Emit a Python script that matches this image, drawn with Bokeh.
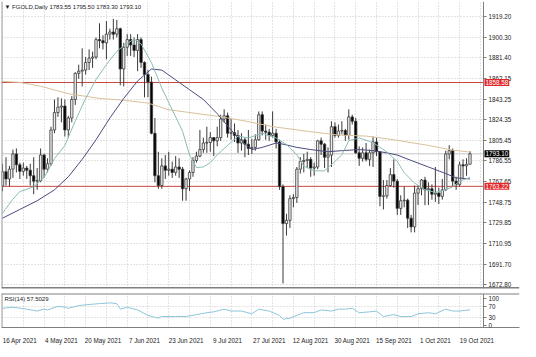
import pandas as pd
from bokeh.plotting import figure
from bokeh.layouts import column
from bokeh.models import (ColumnDataSource, FixedTicker, Label, Span, Range1d,
                          PrintfTickFormatter, BoxAnnotation)
from bokeh.embed import file_html
from bokeh.resources import INLINE

# ---------------- data ----------------
dates = pd.bdate_range("2021-04-16", "2021-10-22")   # daily bars (Mon-Fri)
day = {d.strftime("%m-%d"): i for i, d in enumerate(dates)}

opens = [1763.6, 1776.7, 1770.0, 1779.0, 1793.0, 1783.0, 1777.0, 1780.0, 1778.0, 1773.0,
         1768.0, 1768.5, 1792.0, 1779.0, 1784.0, 1815.0, 1831.0, 1836.0, 1837.0, 1815.0,
         1826.0, 1843.0, 1867.0, 1869.0, 1870.0, 1877.0, 1881.0, 1882.0, 1898.0, 1897.0,
         1895.0, 1903.0, 1905.0, 1903.0, 1908.0, 1871.0, 1891.0, 1898.0, 1893.0, 1888.0,
         1898.0, 1877.0, 1866.0, 1859.0, 1812.0, 1773.0, 1764.0, 1782.0, 1778.0, 1779.0,
         1776.0, 1781.0, 1779.0, 1761.0, 1770.0, 1776.0, 1787.0, 1791.0, 1797.0, 1803.0,
         1803.5, 1808.0, 1805.0, 1808.0, 1825.0, 1828.0, 1812.0, 1812.5, 1810.0, 1803.0,
         1806.0, 1802.0, 1798.0, 1799.0, 1806.0, 1829.0, 1814.0, 1813.0, 1810.0, 1812.0,
         1804.0, 1763.0, 1729.0, 1732.0, 1752.0, 1753.0, 1779.0, 1786.0, 1787.0, 1788.0,
         1780.0, 1781.0, 1805.0, 1802.0, 1790.0, 1792.0, 1818.0, 1810.0, 1814.0, 1814.5,
         1810.0, 1827.0, 1823.0, 1794.0, 1789.0, 1794.0, 1788.0, 1794.0, 1804.0, 1795.0,
         1754.0, 1754.5, 1764.0, 1774.0, 1768.0, 1743.0, 1750.0, 1750.5, 1734.0, 1726.0,
         1757.0, 1761.0, 1769.0, 1760.0, 1761.0, 1756.0, 1757.0, 1754.0, 1760.0, 1793.0,
         1796.0, 1768.0, 1765.0, 1783.0, 1782.0, 1783.55]
highs = [1784.0, 1790.0, 1782.0, 1797.0, 1798.0, 1785.0, 1785.0, 1782.0, 1784.0, 1790.0,
         1780.0, 1798.0, 1793.0, 1789.0, 1818.0, 1843.0, 1845.0, 1844.0, 1843.0, 1828.0,
         1846.0, 1868.0, 1875.0, 1890.0, 1882.0, 1889.0, 1887.0, 1900.0, 1913.0, 1902.0,
         1915.0, 1908.0, 1917.0, 1916.0, 1909.0, 1895.0, 1903.0, 1903.0, 1900.0, 1903.0,
         1900.0, 1878.0, 1870.0, 1864.0, 1826.0, 1795.0, 1789.0, 1792.0, 1795.0, 1786.0,
         1791.0, 1789.0, 1781.0, 1771.0, 1778.0, 1790.0, 1795.0, 1815.0, 1808.0, 1818.0,
         1813.0, 1808.5, 1818.0, 1829.0, 1834.0, 1831.0, 1825.0, 1821.0, 1815.0, 1812.0,
         1808.0, 1815.0, 1807.0, 1811.0, 1832.0, 1832.0, 1820.0, 1816.0, 1832.0, 1816.0,
         1806.0, 1765.0, 1738.0, 1755.0, 1756.0, 1781.0, 1790.0, 1793.0, 1795.0, 1790.0,
         1785.0, 1806.0, 1808.0, 1803.0, 1799.0, 1823.0, 1822.0, 1820.0, 1823.0, 1816.0,
         1834.0, 1829.0, 1826.0, 1800.0, 1799.0, 1803.0, 1797.0, 1809.0, 1808.0, 1795.5,
         1769.0, 1769.0, 1780.0, 1788.0, 1770.0, 1755.0, 1763.0, 1752.0, 1737.0, 1764.0,
         1764.0, 1770.0, 1772.0, 1767.0, 1765.0, 1781.0, 1762.0, 1770.0, 1796.0, 1801.0,
         1798.0, 1772.0, 1786.0, 1788.0, 1789.0, 1795.5]
lows = [1758.8, 1764.0, 1763.0, 1771.0, 1776.0, 1770.0, 1773.0, 1770.0, 1764.0, 1756.0,
        1760.0, 1767.0, 1771.0, 1776.0, 1782.0, 1812.0, 1827.0, 1822.0, 1809.0, 1808.0,
        1822.0, 1838.0, 1862.0, 1855.0, 1866.0, 1870.0, 1872.0, 1880.0, 1890.0, 1889.0,
        1880.0, 1898.0, 1898.0, 1900.0, 1856.0, 1855.0, 1883.0, 1883.0, 1882.0, 1869.0,
        1872.0, 1845.0, 1845.0, 1811.0, 1767.0, 1761.0, 1761.0, 1770.0, 1773.0, 1771.0,
        1773.0, 1771.0, 1750.0, 1750.0, 1759.0, 1772.0, 1785.0, 1790.0, 1794.0, 1794.0,
        1795.0, 1791.0, 1800.0, 1805.0, 1822.0, 1808.0, 1806.0, 1804.0, 1794.0, 1796.0,
        1790.0, 1792.0, 1793.0, 1796.0, 1805.0, 1810.0, 1806.0, 1805.0, 1808.0, 1798.0,
        1760.0, 1674.0, 1718.0, 1725.0, 1744.0, 1748.0, 1775.0, 1776.0, 1780.0, 1772.0,
        1773.0, 1779.0, 1792.0, 1780.0, 1776.0, 1781.0, 1808.0, 1808.0, 1811.0, 1805.0,
        1806.0, 1820.0, 1793.0, 1782.0, 1786.0, 1786.0, 1782.0, 1781.0, 1791.0, 1745.0,
        1742.0, 1752.0, 1763.0, 1762.0, 1737.0, 1737.0, 1744.0, 1725.0, 1721.0, 1721.0,
        1746.0, 1755.0, 1746.0, 1746.0, 1751.0, 1749.0, 1747.0, 1751.0, 1759.0, 1788.0,
        1763.0, 1760.0, 1763.0, 1770.0, 1773.0, 1783.3]
closes = [1776.7, 1770.0, 1779.0, 1793.0, 1783.0, 1777.0, 1780.0, 1778.0, 1773.0, 1768.0,
          1768.5, 1792.0, 1779.0, 1784.0, 1815.0, 1831.0, 1836.0, 1837.0, 1815.0, 1826.0,
          1843.0, 1867.0, 1869.0, 1870.0, 1877.0, 1881.0, 1882.0, 1898.0, 1897.0, 1895.0,
          1903.0, 1905.0, 1903.0, 1908.0, 1871.0, 1891.0, 1898.0, 1893.0, 1888.0, 1898.0,
          1877.0, 1866.0, 1859.0, 1812.0, 1773.0, 1764.0, 1782.0, 1778.0, 1779.0, 1776.0,
          1781.0, 1779.0, 1761.0, 1770.0, 1776.0, 1787.0, 1791.0, 1797.0, 1803.0, 1803.5,
          1808.0, 1805.0, 1808.0, 1825.0, 1828.0, 1812.0, 1812.5, 1810.0, 1803.0, 1806.0,
          1802.0, 1798.0, 1799.0, 1806.0, 1829.0, 1814.0, 1813.0, 1810.0, 1812.0, 1804.0,
          1763.0, 1729.0, 1732.0, 1752.0, 1753.0, 1779.0, 1786.0, 1787.0, 1788.0, 1780.0,
          1781.0, 1805.0, 1802.0, 1790.0, 1792.0, 1818.0, 1810.0, 1814.0, 1814.5, 1810.0,
          1827.0, 1823.0, 1794.0, 1789.0, 1794.0, 1788.0, 1794.0, 1804.0, 1795.0, 1754.0,
          1754.5, 1764.0, 1774.0, 1768.0, 1743.0, 1750.0, 1750.5, 1734.0, 1726.0, 1757.0,
          1761.0, 1769.0, 1760.0, 1761.0, 1756.0, 1757.0, 1754.0, 1760.0, 1793.0, 1796.0,
          1768.0, 1765.0, 1783.0, 1782.0, 1783.5, 1793.1]

# moving averages (date -> value)
ma_slow_dates = ["04-16", "04-23", "05-03", "05-13", "05-26", "06-04", "06-15", "06-23", "07-13",
                 "07-23", "08-04", "08-18", "08-31", "09-10", "09-22", "10-06", "10-15", "10-22"]
ma_slow_vals = [1859.6, 1858.7, 1855.2, 1848.3, 1844.0, 1842.3, 1839.7, 1833.6, 1827.6,
                1823.3, 1818.1, 1813.8, 1810.3, 1809.4, 1806.0, 1800.8, 1796.5, 1794.7]

ma_mid_dates = ["04-16", "04-23", "04-30", "05-07", "05-13", "05-19", "05-25", "05-31", "06-04",
                "06-10", "06-16", "06-21", "06-25", "07-01", "07-07", "07-13", "07-19", "07-22",
                "07-27", "07-30", "08-05", "08-09", "08-13", "08-19", "08-26", "09-01", "09-08",
                "09-14", "09-20", "09-23", "09-29", "10-06", "10-13", "10-18", "10-22"]
ma_mid_vals = [1734, 1742, 1750, 1760, 1772, 1788, 1806, 1826, 1844,
               1860, 1871, 1870, 1861, 1852, 1843, 1830, 1815, 1805,
               1797, 1799, 1803, 1802, 1799, 1797, 1795, 1796, 1797,
               1796, 1794, 1792, 1787, 1781, 1775, 1771, 1770]

ma_fast_dates = ["04-16", "04-21", "04-23", "04-29", "05-04", "05-07", "05-12", "05-17", "05-20",
                 "05-25", "05-28", "06-02", "06-04", "06-09", "06-11", "06-16", "06-21", "06-24",
                 "06-29", "07-01", "07-05", "07-07", "07-09", "07-13", "07-16", "07-21", "07-26",
                 "07-30", "08-05", "08-10", "08-13", "08-17", "08-20", "08-25", "08-30", "09-01",
                 "09-03", "09-08", "09-14", "09-20", "09-23", "09-27", "09-30", "10-05", "10-08",
                 "10-13", "10-15", "10-19", "10-22"]
ma_fast_vals = [1738.6, 1751.5, 1758.4, 1762.8, 1771.4, 1788.7, 1800.8, 1823.3, 1844.0,
                1861.3, 1875.1, 1887.2, 1892.4, 1898.5, 1894.1, 1876.9, 1853.5, 1833.6,
                1813.8, 1792.0, 1780.5, 1781.0, 1785.0, 1792.2, 1800.8, 1809.4, 1807.7,
                1812.0, 1807.7, 1801.6, 1792.2, 1781.8, 1777.5, 1777.5, 1786.1, 1792.2,
                1805.1, 1807.7, 1803.4, 1794.7, 1786.1, 1775.7, 1766.2, 1760.2, 1757.6,
                1760.2, 1762.8, 1768.0, 1771.4]

rsi_dates = ["04-16", "04-21", "04-27", "04-30", "05-04", "05-05", "05-10", "05-12", "05-13",
             "05-18", "05-21", "05-26", "05-31", "06-02", "06-03", "06-07", "06-10", "06-15",
             "06-18", "06-21", "06-25", "06-30", "07-05", "07-08", "07-12", "07-15", "07-19",
             "07-22", "07-27", "07-29", "08-03", "08-06", "08-09", "08-11", "08-13", "08-17",
             "08-20", "08-24", "08-27", "08-31", "09-02", "09-06", "09-08", "09-13", "09-15",
             "09-17", "09-22", "09-24", "09-29", "10-01", "10-06", "10-08", "10-13", "10-15",
             "10-19", "10-22"]
rsi_vals = [63, 67, 60, 53, 60, 57, 70, 67, 63,
            73, 77, 80, 83, 80, 60, 67, 57, 37,
            27, 33, 33, 33, 40, 47, 50, 60, 53,
            53, 43, 60, 53, 37, 23, 27, 37, 47,
            47, 57, 53, 60, 60, 63, 47, 50, 53,
            33, 40, 33, 33, 43, 47, 43, 60, 53,
            53, 57.5029]

price_ticks = [1919.20, 1900.30, 1881.40, 1862.15, 1843.25, 1824.35, 1805.45,
               1786.55, 1767.65, 1748.75, 1729.85, 1710.95, 1691.70, 1672.80]
rsi_ticks = [0, 30, 70, 100]
rsi_levels = [30, 70]
level_lines = [1858.58, 1763.22]
last_price = 1793.10
date_tick_dates = ["04-16", "05-04", "05-20", "06-07", "06-23", "07-09", "07-27",
                   "08-12", "08-30", "09-15", "10-01", "10-19"]
date_tick_labels = ["16 Apr 2021", "4 May 2021", "20 May 2021", "7 Jun 2021", "23 Jun 2021",
                    "9 Jul 2021", "27 Jul 2021", "12 Aug 2021", "30 Aug 2021", "15 Sep 2021",
                    "1 Oct 2021", "19 Oct 2021"]
header = "\u25bc FGOLD,Daily  1783.55 1795.50 1783.30 1793.10"
rsi_title = "RSI(14) 57.5029"

# ---------------- layout constants ----------------
FONT = "Liberation Sans"
GRID = "#c8c8c8"
AX = "#7f7f7f"
X0 = -0.3          # left edge of the chart area (in bars)
XA = 138.9         # where the price scale sits (in bars)
X1 = 149.3         # right edge of the canvas frame (in bars)
n = len(closes)
xs = list(range(n))
x_range = Range1d(X0, X1)
grid_ticks = list(range(0, 139, 6))


def style_value_axis(ax, ticks):
    ax.ticker = FixedTicker(ticks=ticks)
    ax.fixed_location = XA
    ax.major_label_text_font = FONT
    ax.major_label_text_font_size = "6.3px"
    ax.major_label_text_color = "#222222"
    ax.axis_line_color = AX
    ax.major_tick_line_color = AX
    ax.major_tick_in = 0
    ax.major_tick_out = 3
    ax.minor_tick_line_color = None
    ax.major_label_standoff = 2


# ---------------- main price panel ----------------
p = figure(frame_width=518, frame_height=287, x_range=x_range, y_range=Range1d(1669.4, 1933.0),
           y_axis_location="right", output_backend="svg", toolbar_location=None,
           min_border_left=1, min_border_right=1, min_border_top=1, min_border_bottom=3)
p.xaxis.visible = False
p.outline_line_color = None
p.xgrid.ticker = FixedTicker(ticks=grid_ticks)
for g in (p.xgrid, p.ygrid):
    g.grid_line_color = GRID
    g.grid_line_dash = "1 2"
style_value_axis(p.yaxis, price_ticks)
p.yaxis.formatter = PrintfTickFormatter(format="%.2f")
# blank the scale area behind the labels
p.add_layout(BoxAnnotation(left=XA, fill_color="white", fill_alpha=1.0, line_color=None,
                           level="underlay"))

# bid line and level lines (chart area only)
p.segment(x0=[X0], y0=[last_price], x1=[XA], y1=[last_price], line_color="#c4c4c4", line_width=1)
p.segment(x0=[X0] * len(level_lines), y0=level_lines, x1=[XA] * len(level_lines), y1=level_lines,
          line_color="#c9473f", line_width=1)

# candles
tops = [max(o, c) for o, c in zip(opens, closes)]
bots = [min(o, c) for o, c in zip(opens, closes)]
fills = ["#ececec" if c >= o else "#000000" for o, c in zip(opens, closes)]
cs = ColumnDataSource(dict(x=xs, high=highs, low=lows, top=tops, bottom=bots, fill=fills))
p.segment(x0="x", y0="high", x1="x", y1="low", source=cs, line_color="#3a3a3a", line_width=1)
p.vbar(x="x", width=0.68, top="top", bottom="bottom", fill_color="fill",
       line_color="#3a3a3a", line_width=0.8, source=cs)

# moving averages
p.line([day[d] for d in ma_slow_dates], ma_slow_vals, line_color="#d8c19a", line_width=1)
p.line([day[d] for d in ma_mid_dates], ma_mid_vals, line_color="#4b4b7d", line_width=1)
p.line([day[d] for d in ma_fast_dates], ma_fast_vals, line_color="#89bdb6", line_width=1)

# frame lines
p.add_layout(Span(location=X0, dimension="height", line_color="#a0a0a0", line_width=2))
p.add_layout(Span(location=1669.4, dimension="width", line_color="#808080", line_width=3))

p.add_layout(Label(x=X0, y=1933.0, x_offset=3, y_offset=-2, text=header,
                   text_font=FONT, text_font_size="6px", text_color="#1a1a1a",
                   text_baseline="top", text_align="left"))

# price tags on the scale
for val, col in ((level_lines[0], "#e3262a"), (level_lines[1], "#e3262a"), (last_price, "#000000")):
    p.add_layout(Label(x=XA, y=val, x_offset=1, text="%.2f" % val, text_font=FONT,
                       text_font_size="6.3px", text_color="white", text_baseline="middle",
                       text_align="left", background_fill_color=col, padding=1))

# ---------------- RSI panel ----------------
r = figure(frame_width=518, frame_height=34, x_range=x_range, y_range=Range1d(-7, 117),
           y_axis_location="right", output_backend="svg", toolbar_location=None,
           min_border_left=1, min_border_right=1, min_border_top=2, min_border_bottom=2)
r.outline_line_color = None
r.xgrid.ticker = FixedTicker(ticks=grid_ticks)
r.ygrid.ticker = FixedTicker(ticks=rsi_levels)
for g in (r.xgrid, r.ygrid):
    g.grid_line_color = GRID
    g.grid_line_dash = "1 2"
style_value_axis(r.yaxis, rsi_ticks)
r.add_layout(BoxAnnotation(left=XA, fill_color="white", fill_alpha=1.0, line_color=None,
                           level="underlay"))
r.xaxis.major_label_text_font = FONT
r.xaxis.major_label_text_font_size = "6.3px"
r.xaxis.major_label_text_color = "#222222"
r.xaxis.axis_line_color = AX
r.xaxis.minor_tick_line_color = None
label_pos = [day[d] + 5 for d in date_tick_dates]
r.xaxis.ticker = FixedTicker(ticks=label_pos)
r.xaxis.major_label_overrides = {k: v for k, v in zip(label_pos, date_tick_labels)}
r.xaxis.major_tick_line_color = None
r.xaxis.major_label_standoff = 3

r.add_layout(Span(location=X0, dimension="height", line_color="#a0a0a0", line_width=2))
r.add_layout(Span(location=117, dimension="width", line_color="#808080", line_width=2))
r.line([day[d] for d in rsi_dates], rsi_vals, line_color="#8cc6da", line_width=1)
r.add_layout(Label(x=X0, y=117, x_offset=3, y_offset=-2, text=rsi_title, text_font=FONT,
                   text_font_size="6px", text_color="#1a1a1a", text_baseline="top",
                   text_align="left"))

layout = column(p, r, spacing=0)
open("out.html", "w").write(file_html(layout, INLINE))
